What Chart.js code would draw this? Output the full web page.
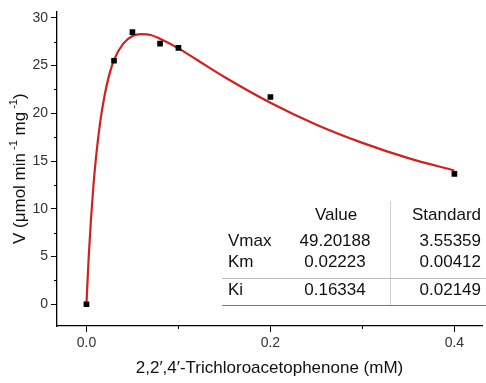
<!DOCTYPE html>
<html>
<head>
<meta charset="utf-8">
<script src="https://cdn.jsdelivr.net/npm/chart.js@4"></script>
<style>
  html, body { margin: 0; padding: 0; background: #fff; }
  #wrap { width: 486px; height: 383px; }
</style>
</head>
<body>
<div id="wrap"><canvas id="kinChart" width="486" height="383"></canvas></div>
<script>
// measured points
const substrate = [0, 0.03, 0.05, 0.08, 0.1, 0.2, 0.4];
const rate = [0, 25.5, 28.5, 27.3, 26.85, 21.7, 13.65];

// fitted curve
const fitX = [0, 0.0025, 0.005, 0.0075, 0.01, 0.015, 0.02, 0.025, 0.03, 0.04, 0.05, 0.06, 0.07, 0.08, 0.1, 0.12, 0.15, 0.2, 0.25, 0.3, 0.35, 0.4];
const fitY = [0, 5.0, 9.0, 12.3, 15.0, 19.1, 22.0, 24.1, 25.6, 27.3, 28.1, 28.3, 28.2, 27.8, 26.8, 25.6, 23.8, 21.1, 18.8, 16.9, 15.3, 14.0];

const xTicks = [0, 0.2, 0.4];
const xMinor = [0.1, 0.3];
const yTicks = [0, 5, 10, 15, 20, 25, 30];
const yMinor = [2.5, 7.5, 12.5, 17.5, 22.5, 27.5];

// fit parameters table
const paramNames = ['Vmax', 'Km', 'Ki'];
const paramValues = ['49.20188', '0.02223', '0.16334'];
const paramErrors = ['3.55359', '0.00412', '0.02149'];

const FONT = '"Liberation Sans", Arial, sans-serif';

/* ---------- minor ticks + y title + table ---------- */
const extras = {
  id: 'extras',
  afterDraw(chart) {
    const c = chart.ctx;
    const xs = chart.scales.x, ys = chart.scales.y;
    const area = chart.chartArea;

    // minor ticks
    c.save();
    c.strokeStyle = '#000';
    c.lineWidth = 1;
    c.beginPath();
    yMinor.forEach(v => {
      const p = Math.round(ys.getPixelForValue(v)) + 0.5;
      c.moveTo(area.left - 3, p); c.lineTo(area.left, p);
    });
    xMinor.forEach(v => {
      const p = Math.round(xs.getPixelForValue(v)) + 0.5;
      c.moveTo(p, area.bottom); c.lineTo(p, area.bottom + 3);
    });
    c.stroke();
    c.restore();

    // y title with superscripts
    const parts = [
      { t: 'V (\u03bcmol min', sup: false },
      { t: ' -1', sup: true },
      { t: ' mg', sup: false },
      { t: ' -1', sup: true },
      { t: ')', sup: false }
    ];
    c.save();
    c.fillStyle = '#111';
    c.textBaseline = 'middle';
    let total = 0;
    parts.forEach(p => {
      c.font = (p.sup ? '11px ' : '17px ') + FONT;
      p.w = c.measureText(p.t).width;
      total += p.w;
    });
    c.translate(20, (area.top + area.bottom) / 2);
    c.rotate(-Math.PI / 2);
    let x = -total / 2;
    parts.forEach(p => {
      c.font = (p.sup ? '11px ' : '17px ') + FONT;
      c.fillText(p.t, x, p.sup ? -6 : 0);
      x += p.w;
    });
    c.restore();

    // parameter table
    c.save();
    c.font = '17px ' + FONT;
    c.fillStyle = '#111';
    c.textBaseline = 'middle';
    const rowY = [241, 262, 290];
    c.textAlign = 'center';
    c.fillText('Value', 336, 215);
    c.textAlign = 'right';
    c.fillText('Standard', 481, 215);
    paramNames.forEach((n, i) => {
      c.textAlign = 'left';
      c.fillText(n, 228, rowY[i]);
      c.textAlign = 'center';
      c.fillText(paramValues[i], 335, rowY[i]);
      c.textAlign = 'right';
      c.fillText(paramErrors[i], 481, rowY[i]);
    });
    c.lineWidth = 1;
    c.strokeStyle = '#d0d0d0';
    c.beginPath();
    c.moveTo(390.5, 201); c.lineTo(390.5, 305);
    c.stroke();
    c.strokeStyle = '#bdbdbd';
    c.beginPath();
    c.moveTo(222, 278.5); c.lineTo(486, 278.5);
    c.stroke();
    c.strokeStyle = '#777';
    c.beginPath();
    c.moveTo(222, 305.5); c.lineTo(486, 305.5);
    c.stroke();
    c.restore();
  }
};

new Chart(document.getElementById('kinChart'), {
  type: 'scatter',
  data: {
    datasets: [
      {
        label: 'data',
        data: substrate.map((s, i) => ({ x: s, y: rate[i] })),
        pointStyle: 'rect',
        pointRadius: 4,
        backgroundColor: '#000',
        borderColor: '#000',
        borderWidth: 0,
        showLine: false
      },
      {
        label: 'fit',
        data: fitX.map((s, i) => ({ x: s, y: fitY[i] })),
        showLine: true,
        borderColor: '#d0201f',
        borderWidth: 2.2,
        pointRadius: 0,
        cubicInterpolationMode: 'monotone',
        fill: false
      }
    ]
  },
  options: {
    responsive: false,
    devicePixelRatio: 1,
    animation: false,
    layout: { padding: { top: 8, right: 0, left: 0, bottom: 0 } },
    plugins: { legend: { display: false }, tooltip: { enabled: false } },
    scales: {
      x: {
        type: 'linear',
        min: -0.032,
        max: 0.43,
        afterBuildTicks: s => { s.ticks = xTicks.map(v => ({ value: v })); },
        afterFit: s => { s.height = 57; },
        ticks: {
          callback: v => v.toFixed(1),
          font: { family: FONT, size: 14 },
          color: '#333',
          padding: 3,
          maxRotation: 0
        },
        grid: { drawOnChartArea: false, tickLength: 6, tickColor: '#000', color: '#000' },
        border: { color: '#000', width: 1.3 },
        title: {
          display: true,
          text: '2,2\u2032,4\u2032-Trichloroacetophenone (mM)',
          font: { family: FONT, size: 17 },
          color: '#111',
          padding: { top: 0, bottom: 4 }
        }
      },
      y: {
        min: -2.28,
        max: 30.67,
        afterBuildTicks: s => { s.ticks = yTicks.map(v => ({ value: v })); },
        afterFit: s => { s.width = 57; },
        ticks: {
          font: { family: FONT, size: 14 },
          color: '#333',
          padding: 3
        },
        grid: { drawOnChartArea: false, tickLength: 6, tickColor: '#000', color: '#000' },
        border: { color: '#000', width: 1.3 }
      }
    }
  },
  plugins: [extras]
});
</script>
</body>
</html>
